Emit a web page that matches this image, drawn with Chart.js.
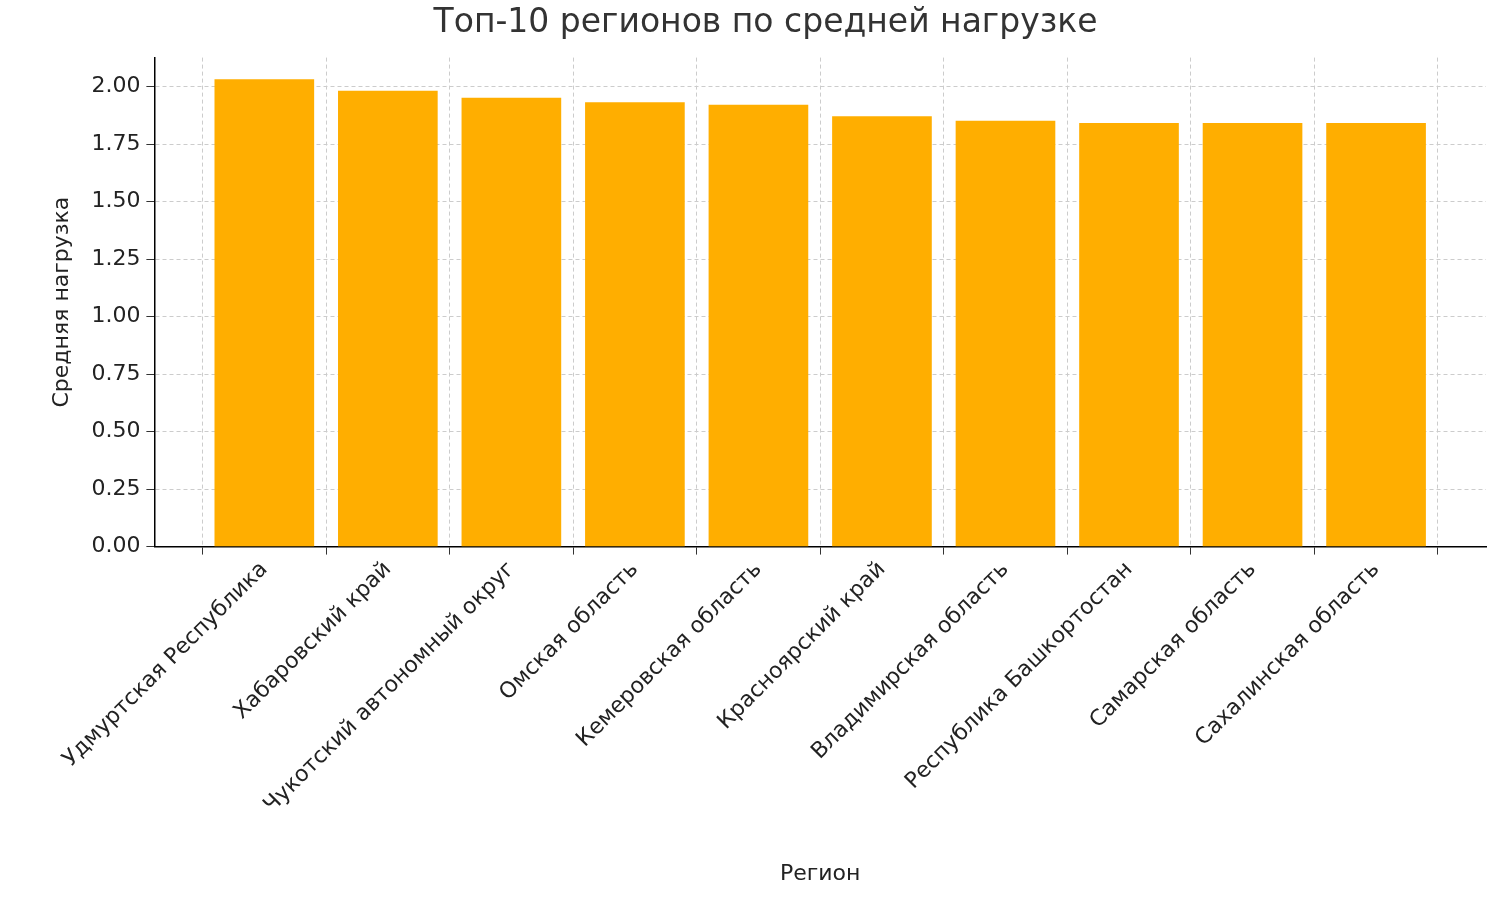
<!DOCTYPE html>
<html><head><meta charset="utf-8">
<script src="https://cdn.jsdelivr.net/npm/chart.js@4"></script>
<style>html,body{margin:0;background:#fff}#w{width:1500px;height:901px}</style>
</head><body><div id="w"><canvas id="c"></canvas></div>
<script>
const categories = ["Удмуртская Республика","Хабаровский край","Чукотский автономный округ","Омская область","Кемеровская область","Красноярский край","Владимирская область","Республика Башкортостан","Самарская область","Сахалинская область"];
const values = [2.03,1.98,1.95,1.93,1.92,1.87,1.85,1.84,1.84,1.84];
const yTicks = [0,0.25,0.5,0.75,1,1.25,1.5,1.75,2];
const F = "'DejaVu Sans', sans-serif";
const grid = {color:'#cccccc', lineWidth:1, tickColor:'#333', tickLength:8, drawTicks:true};
new Chart(document.getElementById('c'), {
  type:'bar',
  data:{datasets:[{data:values.map((v,i)=>({x:i,y:v})), backgroundColor:'#ffae00', barThickness:99}]},
  options:{
    responsive:true, maintainAspectRatio:false, animation:false,
    layout:{padding:{left:45,right:14,top:4,bottom:10}},
    plugins:{legend:{display:false}, tooltip:{enabled:false},
      title:{display:true,text:'Топ-10 регионов по средней нагрузке',color:'#333',font:{family:F,size:33,weight:'normal'},padding:{top:0,bottom:14}}},
    scales:{
      x:{type:'linear', z:1, min:-0.89, max:9.89, offset:false,
        afterBuildTicks:a=>{a.ticks=categories.map((c,i)=>({value:i}));},
        grid:{...grid}, border:{color:'#000',width:1.5,dash:[4,3]},
        ticks:{color:'#222',font:{family:F,size:22},maxRotation:45,minRotation:45,padding:2,autoSkip:false,
          callback:v=>categories[v]},
        title:{display:true,text:'Регион',color:'#222',font:{family:F,size:22},padding:{top:40}}},
      y:{z:1, min:0, max:2.126, afterBuildTicks:a=>{a.ticks=yTicks.map(v=>({value:v}));},
        grid:{...grid}, border:{color:'#000',width:1.5,dash:[4,3]},
        ticks:{color:'#222',font:{family:F,size:22},padding:6,callback:v=>v.toFixed(2)},
        title:{display:true,text:'Средняя нагрузка',color:'#222',font:{family:F,size:22},padding:{bottom:10}}}
    }
  }
});
</script></body></html>
